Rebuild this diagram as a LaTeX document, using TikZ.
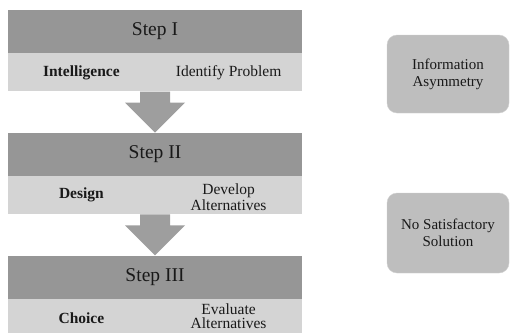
\documentclass[tikz,border=0pt]{standalone}
\usepackage{fontspec}
\setmainfont{Liberation Serif}
\usetikzlibrary{positioning,calc}

\definecolor{headgray}{RGB}{150,150,150}
\definecolor{rowgray}{RGB}{212,212,212}
\definecolor{arrowgray}{RGB}{158,158,158}
\definecolor{boxgray}{RGB}{190,190,190}
\definecolor{boxedge}{RGB}{208,208,208}
\definecolor{inkgray}{RGB}{25,25,25}

\begin{document}
\begin{tikzpicture}[x=1pt,y=-1pt,
  stephead/.style={fill=headgray, minimum width=294pt, minimum height=43pt, inner sep=0pt,
    font=\fontsize{19.5}{22}\selectfont, text=inkgray},
  steprow/.style={fill=rowgray, minimum width=294pt, minimum height=38pt, inner sep=0pt},
  phase/.style={font=\fontsize{15.5}{18}\bfseries\selectfont, text=inkgray},
  task/.style={font=\fontsize{15.5}{14}\selectfont, text=inkgray, align=center},
  issue/.style={fill=boxgray, draw=boxedge, rounded corners=10pt, minimum width=122pt,
    inner sep=0pt, font=\fontsize{15}{17}\selectfont, text=inkgray, align=center}]
  \useasboundingbox (0,0) rectangle (510,332);

  % steps
  \node[stephead] (stepA) at (155,31.5) {Step I};
  \node[steprow, below=0pt of stepA] (rowA) {};
  \node[stephead, below=41pt of rowA] (stepB) {Step II};
  \node[steprow, below=0pt of stepB] (rowB) {};
  \node[stephead, below=41pt of rowB] (stepC) {Step III};
  \node[steprow, below=0pt of stepC] (rowC) {};

  % labels in the rows
  \node[phase] (phaseA) at ($(rowA.center)!0.5!(rowA.west)$) {Intelligence};
  \node[task] (taskA) at ($(rowA.center)!0.5!(rowA.east)$) {Identify Problem};
  \node[phase] (phaseB) at ($(rowB.center)!0.5!(rowB.west)$) {Design};
  \node[task, yshift=-2pt] (taskB) at ($(rowB.center)!0.5!(rowB.east)$) {Develop\\Alternatives};
  \node[phase] (phaseC) at ($(rowC.center)!0.5!(rowC.west)$) {Choice};
  \node[task, yshift=2pt] (taskC) at ($(rowC.center)!0.5!(rowC.east)$) {Evaluate\\Alternatives};

  % block arrows
  \foreach \from/\to in {rowA/stepB, rowB/stepC}
    \fill[arrowgray] ($(\from.south)+(-15,0)$) -- ($(\from.south)+(15,0)$)
      -- ($(\from.south)+(15,11)$) -- ($(\from.south)+(30,11)$) -- (\to.north)
      -- ($(\from.south)+(-30,11)$) -- ($(\from.south)+(-15,11)$) -- cycle;

  % side boxes
  \node[issue, minimum height=78pt] (infoA) at (448,74) {Information\\Asymmetry};
  \node[issue, minimum height=80pt] (infoB) at (448,233) {No Satisfactory\\Solution};
\end{tikzpicture}
\end{document}
